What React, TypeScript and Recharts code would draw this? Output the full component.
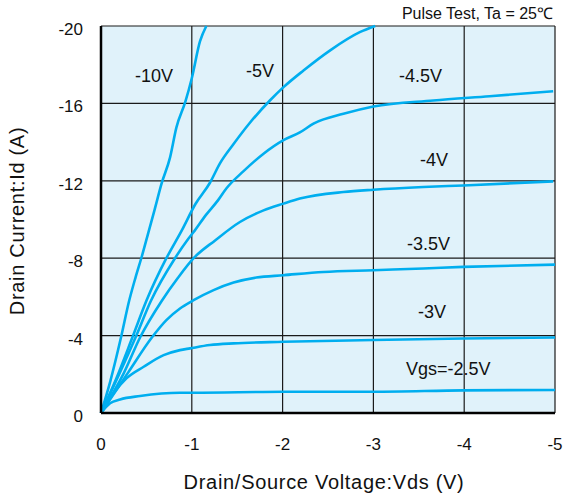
import { LineChart, Line, XAxis, YAxis, CartesianGrid } from "recharts";

type Pt = { v: number; i: number };
const pts = (rows: number[][]): Pt[] => rows.map(([v, i]) => ({ v, i }));

// [Vds, Id]
const vgs10 = pts([
  [0, 0], [-0.1, -1.6], [-0.22, -3.9], [-0.31, -5.8], [-0.38, -7.0], [-0.45, -8.1],
  [-0.52, -9.3], [-0.59, -10.5], [-0.67, -11.9], [-0.76, -13.2], [-0.83, -14.75],
  [-0.93, -16.1], [-1.0, -17.3], [-1.09, -19.2], [-1.16, -20],
]);
const vgs5 = pts([
  [0, 0], [-0.17, -1.8], [-0.345, -3.9], [-0.5, -5.8], [-0.72, -8.0], [-0.89, -9.44],
  [-1.04, -10.8], [-1.2, -11.9], [-1.31, -12.9], [-1.46, -13.9], [-1.64, -15.0],
  [-1.86, -16.15], [-2.01, -16.84], [-2.23, -17.7], [-2.52, -18.73], [-2.85, -19.68], [-3.02, -20],
]);
const vgs45 = pts([
  [0, 0], [-0.2, -2.0], [-0.38, -3.9], [-0.55, -5.8], [-0.815, -8.0], [-0.95, -8.93],
  [-1.02, -9.35], [-1.15, -10.2], [-1.29, -11.0], [-1.38, -11.6], [-1.57, -12.5],
  [-1.79, -13.4], [-2.01, -14.1], [-2.19, -14.5], [-2.34, -14.95], [-2.67, -15.46],
  [-3.0, -15.84], [-3.66, -16.15], [-4.28, -16.37], [-4.98, -16.63],
]);
const vgs4 = pts([
  [0, 0], [-0.25, -2.05], [-0.43, -3.9], [-0.67, -5.8], [-0.85, -7.0], [-1.02, -8.0],
  [-1.26, -8.93], [-1.53, -9.87], [-1.79, -10.47], [-2.01, -10.82], [-2.19, -11.08],
  [-2.67, -11.42], [-3.0, -11.54], [-3.55, -11.68], [-3.99, -11.76], [-4.98, -11.97],
]);
const vgs35 = pts([
  [0, 0], [-0.3, -2.1], [-0.56, -3.9], [-0.72, -4.8], [-0.87, -5.4], [-1.02, -5.83],
  [-1.24, -6.35], [-1.46, -6.74], [-1.71, -7.0], [-2.01, -7.12], [-2.45, -7.29],
  [-3.0, -7.38], [-3.55, -7.47], [-3.99, -7.55], [-5.0, -7.67],
]);
const vgs3 = pts([
  [0, 0], [-0.135, -1.0], [-0.28, -1.79], [-0.47, -2.39], [-0.69, -2.99], [-0.87, -3.25],
  [-0.98, -3.34], [-1.2, -3.51], [-1.46, -3.6], [-2.01, -3.68], [-3.0, -3.77],
  [-3.99, -3.85], [-5.0, -3.9],
]);
const vgs25 = pts([
  [0, 0], [-0.1, -0.5], [-0.21, -0.7], [-0.43, -0.88], [-0.87, -1.05], [-1.02, -1.05],
  [-2.01, -1.1], [-3.0, -1.1], [-3.99, -1.17], [-5.0, -1.19],
]);

const curves = [vgs10, vgs5, vgs45, vgs4, vgs35, vgs3, vgs25];
const xTicks = [0, -1, -2, -3, -4, -5];
const yTicks = [0, -4, -8, -12, -16, -20];

const FONT = "'Liberation Sans', Arial, Helvetica, sans-serif";
const CYAN = "#00aeef";

const XTick = ({ x, y, payload }: any) => (
  <text x={x} y={y} textAnchor="middle" fontSize={17} fill="#111" fontFamily={FONT}>
    {payload.value}
  </text>
);
const YTick = ({ x, y, payload }: any) => (
  <text x={x} y={y + 9} textAnchor="end" fontSize={17} fill="#111" fontFamily={FONT}>
    {payload.value}
  </text>
);

export default function App() {
  return (
    <div style={{ position: "absolute", left: 0, top: 0, width: 565, height: 500, fontFamily: FONT, background: "#fff" }}>
      <LineChart width={565} height={500} margin={{ top: 26, right: 10, bottom: 37, left: 0 }}>
        <CartesianGrid stroke="#1a1a1a" strokeWidth={1.2} fill="#e0f2fa" fillOpacity={1} />
        <XAxis
          dataKey="v"
          type="number"
          domain={[-5, 0]}
          ticks={xTicks}
          reversed
          height={50}
          tickSize={0}
          tickMargin={37}
          tickLine={false}
          tick={<XTick />}
          axisLine={{ stroke: "#000", strokeWidth: 2.5 }}
        />
        <XAxis xAxisId="top" orientation="top" type="number" domain={[-5, 0]} reversed height={0} tick={false} tickLine={false} axisLine={{ stroke: "#000", strokeWidth: 2.5 }} />
        <YAxis
          type="number"
          domain={[-20, 0]}
          ticks={yTicks}
          reversed
          width={101}
          tickSize={0}
          tickMargin={18}
          tickLine={false}
          tick={<YTick />}
          axisLine={{ stroke: "#000", strokeWidth: 2.5 }}
        />
        <YAxis yAxisId="right" orientation="right" type="number" domain={[-20, 0]} reversed width={0} tick={false} tickLine={false} axisLine={{ stroke: "#000", strokeWidth: 2.5 }} />
        {curves.map((d, k) => (
          <Line
            key={k}
            data={d}
            dataKey="i"
            type="monotone"
            stroke={CYAN}
            strokeWidth={2.6}
            dot={false}
            isAnimationActive={false}
          />
        ))}
      </LineChart>
      <svg width={565} height={500} style={{ position: "absolute", left: 0, top: 0, pointerEvents: "none" }} fontFamily={FONT} fill="#111">
        <text x={553} y={19} textAnchor="end" fontSize={16}>Pulse Test, Ta = 25℃</text>
        <text x={135} y={82} fontSize={18}>-10V</text>
        <text x={246} y={77} fontSize={18}>-5V</text>
        <text x={399} y={82} fontSize={18}>-4.5V</text>
        <text x={420} y={166} fontSize={18}>-4V</text>
        <text x={407} y={250} fontSize={18}>-3.5V</text>
        <text x={418} y={318} fontSize={18}>-3V</text>
        <text x={406} y={375} fontSize={18}>Vgs=-2.5V</text>
        <text x={324} y={489} textAnchor="middle" fontSize={20} letterSpacing={0.7}>Drain/Source Voltage:Vds (V)</text>
        <text x={24} y={221} textAnchor="middle" fontSize={20} letterSpacing={0.7} transform="rotate(-90 24 221)">Drain Current:Id (A)</text>
      </svg>
    </div>
  );
}
